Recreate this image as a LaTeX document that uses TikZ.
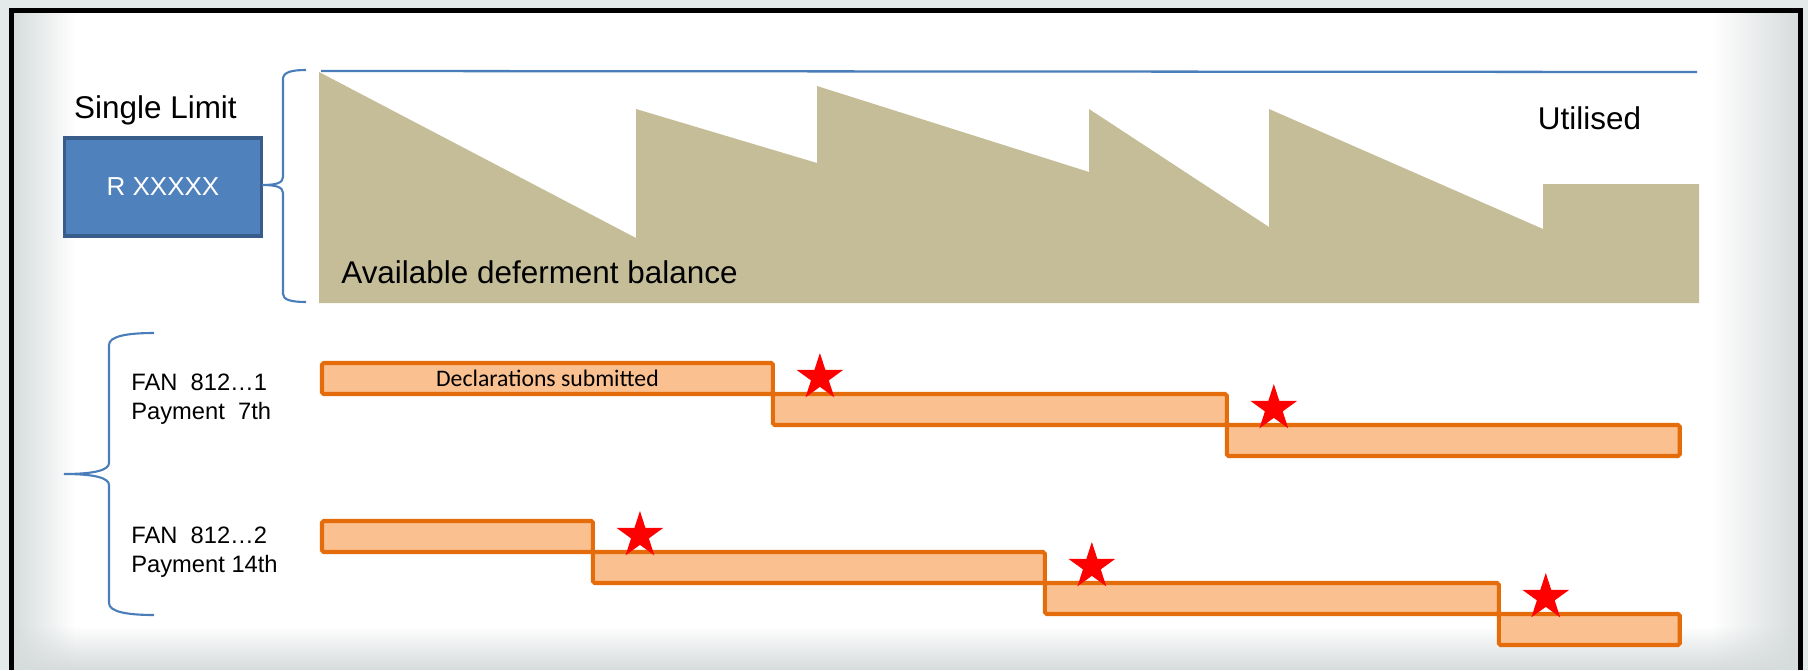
\documentclass[tikz,border=0pt]{standalone}
\usepackage{fontspec}
\setmainfont{Liberation Sans}
\newfontfamily\calibrifont{Carlito}
\usetikzlibrary{shapes.geometric, positioning, calc, fadings}

\definecolor{tanfill}{HTML}{C4BD97}
\definecolor{limitblue}{HTML}{4F81BD}
\definecolor{limitedge}{HTML}{385D8A}
\definecolor{bracecol}{HTML}{4A7EBB}
\definecolor{barorange}{HTML}{E46C0A}
\definecolor{barfill}{HTML}{FAC090}
\definecolor{edgegray}{HTML}{D6DBDC}
\definecolor{outgray}{HTML}{E4E9E9}

\begin{document}
\begin{tikzpicture}[x=0.02cm, y=-0.02cm,
    bigtext/.style={font=\fontsize{17.9}{20}\selectfont, inner sep=0pt},
    fantext/.style={font=\fontsize{13.5}{16.5}\selectfont, align=left, inner sep=0pt},
    bracket/.style={draw=bracecol, line width=1.2pt},
    barbox/.style={draw=barorange, fill=barfill, line width=2.3pt, rounded corners=1pt,
      minimum height=0.62cm, inner sep=0pt, outer sep=0pt, anchor=north west},
    paystar/.style={star, star points=5, star point ratio=2.618, fill=red,
      minimum size=0.98cm, inner sep=0pt}]
  \useasboundingbox (0,0) rectangle (1808,670);

  % --- Page background and slide frame ---
  \fill[outgray] (0,0) rectangle (1808,670);
  \fill[white] (11,10) rectangle (1800,670);
  \fill[edgegray, path fading=east] (11,10) rectangle (75,670);
  \fill[edgegray, path fading=west] (1712,10) rectangle (1800,670);
  \fill[edgegray, path fading=north] (11,626) rectangle (1800,670);
  \draw[black, line width=2.8pt] (11.5,670) |- (1800.5,10.5) -- (1800.5,670);

  % --- Deferment limit ---
  \node[bigtext, anchor=base] (title) at (155.5,118) {Single Limit};
  \node[draw=limitedge, fill=limitblue, line width=2pt, minimum width=3.94cm,
    minimum height=1.97cm, text=white, font=\fontsize{14.8}{17}\selectfont]
    (limit) at (163,187) {R XXXXX};

  % balance left over after each payment
  \fill[tanfill] (319,72) -- (636,238) -- (636,109) -- (817,163) -- (817,86)
    -- (1089,172) -- (1089,109) -- (1269,227) -- (1269,109) -- (1543,229)
    -- (1543,184) -- (1699,184) -- (1699,303) -- (319,303) -- cycle;
  \draw[bracecol, line width=1.3pt] (321,71) -- (1697,72);
  \node[bigtext, anchor=base] (used) at (1589.5,129) {Utilised};
  \node[bigtext, anchor=base west] (avail) at (341,283) {Available deferment balance};

  % brace from the limit to the balance
  \draw[bracket] (306,70) .. controls (292,70) and (283,72) .. (283,79) -- (283,177)
    .. controls (283,183) and (276,185) .. (262,185)
    .. controls (276,185) and (283,187) .. (283,193) -- (283,294)
    .. controls (283,300) and (292,302) .. (306,302);

  % --- Payment accounts ---
  \draw[bracket] (154,333) .. controls (128,333) and (109,336) .. (109,345) -- (109,463)
    .. controls (109,470) and (95,474) .. (64,474)
    .. controls (95,474) and (109,478) .. (109,485) -- (109,603)
    .. controls (109,612) and (128,615) .. (154,615);
  % base sits on the last line
  \node[fantext, anchor=base west] (fan1) at (131,419) {FAN\ \ 812…1\\Payment\ \ 7th};
  \node[fantext, anchor=base west] (fan2) at (131,572) {FAN\ \ 812…2\\Payment 14th};

  % declaration periods, one step down at each payment
  \node[barbox, minimum width=9.02cm] (b11) at (322,363)
    {\calibrifont\fontsize{13.5}{16}\selectfont Declarations submitted};
  \node[barbox, minimum width=9.08cm] (b12) at (b11.south east) {};
  \node[barbox, minimum width=9.06cm] (b13) at (b12.south east) {};

  \node[barbox, minimum width=5.42cm] (b21) at (322,521) {};
  \node[barbox, minimum width=9.04cm] (b22) at (b21.south east) {};
  \node[barbox, minimum width=9.08cm] (b23) at (b22.south east) {};
  \node[barbox, minimum width=3.62cm] (b24) at (b23.south east) {};

  % payment dates
  \foreach \b/\s in {b12/s11, b13/s12, b22/s21, b23/s22, b24/s23}
    \node[paystar, xshift=0.94cm, yshift=0.33cm] (\s) at (\b.north west) {};

\end{tikzpicture}
\end{document}
